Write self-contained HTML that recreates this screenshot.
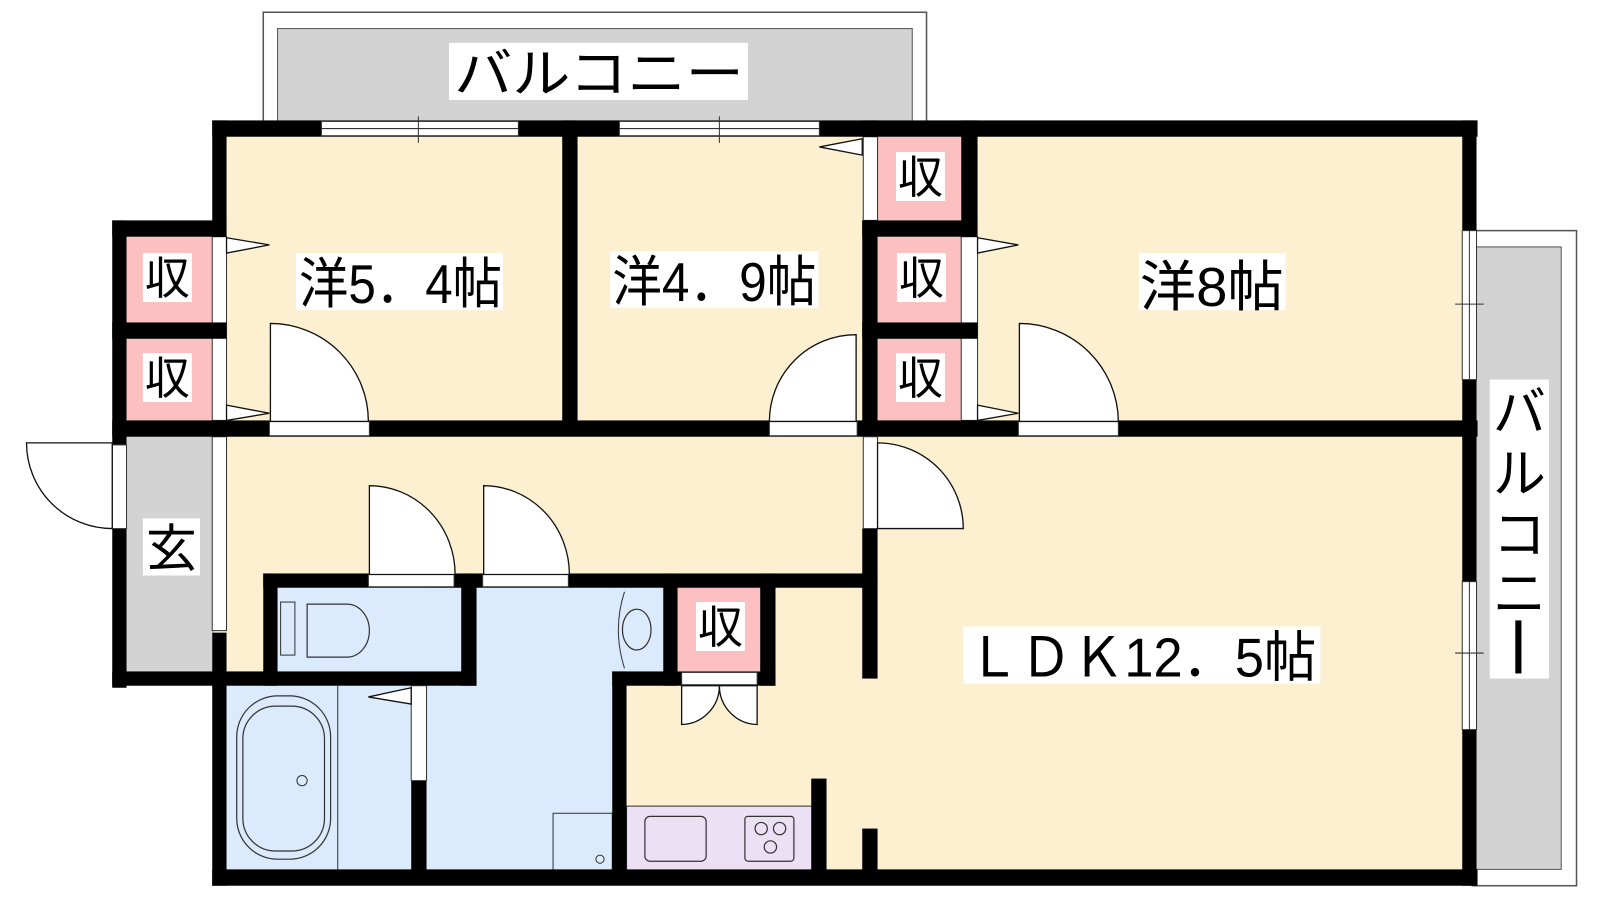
<!DOCTYPE html>
<html><head><meta charset="utf-8"><style>
html,body{margin:0;padding:0;background:#fff;width:1600px;height:900px;overflow:hidden}
svg{display:block}
text{font-family:"Liberation Sans","Noto Sans CJK JP",sans-serif;fill:#000}
</style></head><body>
<svg width="1600" height="900" viewBox="0 0 1568 882" preserveAspectRatio="none" xmlns="http://www.w3.org/2000/svg">
<!-- balconies -->
<rect x="258" y="12" width="650" height="110" fill="#fff" stroke="#555" stroke-width="1.5"/>
<rect x="272" y="28" width="622" height="94" fill="#d3d3d3" stroke="#555" stroke-width="1"/>
<rect x="440" y="42" width="293" height="56" fill="#fff"/>
<text x="445" y="90" font-size="52" textLength="284" lengthAdjust="spacingAndGlyphs">バルコニー</text>
<rect x="1443" y="226" width="102" height="642" fill="#fff" stroke="#555" stroke-width="1.5"/>
<rect x="1443" y="242" width="87" height="610" fill="#d3d3d3" stroke="#555" stroke-width="1"/>
<rect x="1460" y="372" width="58" height="293" fill="#fff"/>
<g font-size="52" text-anchor="middle">
<text x="1489" y="422">バ</text><text x="1489" y="482">ル</text><text x="1489" y="542">コ</text><text x="1489" y="600">ニ</text>
</g>
<rect x="1485" y="608" width="6" height="52" fill="#000"/>
<!-- floors -->
<rect x="222" y="134" width="330" height="280" fill="#fdf0d0"/>
<rect x="566" y="134" width="280" height="280" fill="#fdf0d0"/>
<rect x="958" y="134" width="476" height="280" fill="#fdf0d0"/>
<rect x="208" y="428" width="640" height="136" fill="#fdf0d0"/>
<rect x="208" y="560" width="52" height="100" fill="#fdf0d0"/>
<rect x="860" y="428" width="574" height="426" fill="#fdf0d0"/>
<rect x="614" y="672" width="250" height="182" fill="#fdf0d0"/>
<rect x="760" y="576" width="100" height="100" fill="#fdf0d0"/>
<rect x="124" y="428" width="86" height="232" fill="#d3d3d3"/>
<rect x="208" y="428" width="14" height="190" fill="#fff" stroke="#333" stroke-width="1"/>
<!-- blue wet areas -->
<rect x="272" y="576" width="182" height="84" fill="#dbeafd"/>
<rect x="222" y="672" width="184" height="182" fill="#dbeafd"/>
<rect x="418" y="576" width="184" height="278" fill="#dbeafd"/>
<rect x="600" y="576" width="52" height="84" fill="#dbeafd"/>
<!-- closets pink -->
<g fill="#fcc0c0">
<rect x="124" y="232" width="86" height="84"/><rect x="124" y="332" width="86" height="82"/>
<rect x="860" y="134" width="82" height="82"/><rect x="860" y="232" width="82" height="84"/><rect x="860" y="332" width="82" height="82"/>
<rect x="664" y="576" width="82" height="82"/>
</g>
<rect x="208" y="232" width="14" height="180" fill="#fff" stroke="#333" stroke-width="1"/>
<rect x="846" y="134" width="14" height="82" fill="#fff" stroke="#333" stroke-width="1"/>
<rect x="942" y="232" width="16" height="180" fill="#fff" stroke="#333" stroke-width="1"/>
<!-- kitchen -->
<rect x="614" y="790" width="182" height="64" fill="#ece0f5" stroke="#333" stroke-width="1"/>
<rect x="632" y="800" width="60" height="44" rx="5" fill="none" stroke="#333" stroke-width="1.2"/>
<rect x="730" y="800" width="48" height="44" rx="3" fill="none" stroke="#333" stroke-width="1.2"/>
<g fill="none" stroke="#333" stroke-width="1.2"><circle cx="746" cy="812" r="6"/><circle cx="764" cy="812" r="6"/><circle cx="755" cy="830" r="6"/></g>
<!-- bath -->
<rect x="232" y="682" width="92" height="160" rx="40" fill="none" stroke="#333" stroke-width="1.2"/>
<rect x="238" y="692" width="80" height="142" rx="32" fill="none" stroke="#333" stroke-width="1.2"/>
<circle cx="296" cy="765" r="5" fill="none" stroke="#333"/>
<line x1="331" y1="672" x2="331" y2="852" stroke="#333"/>
<rect x="542" y="797" width="58" height="57" fill="none" stroke="#333"/>
<circle cx="588" cy="842" r="4" fill="none" stroke="#333"/>
<!-- toilet -->
<rect x="275" y="590" width="14" height="52" fill="none" stroke="#333"/>
<path d="M301 592 H340 A22 26 0 0 1 340 644 H301 Z" fill="none" stroke="#333" stroke-width="1.2"/>
<!-- sink -->
<ellipse cx="624" cy="617" rx="14" ry="20" fill="none" stroke="#333" stroke-width="1.2"/>
<path d="M612 580 Q600 617 612 655" fill="none" stroke="#333"/>
<!-- walls -->
<g fill="#000">
<rect x="208" y="118" width="1240" height="16"/>
<rect x="208" y="118" width="14" height="114"/>
<rect x="110" y="216" width="112" height="16"/>
<rect x="110" y="316" width="112" height="16"/>
<rect x="110" y="216" width="14" height="220"/>
<rect x="110" y="518" width="14" height="156"/>
<rect x="110" y="412" width="1338" height="16"/>
<rect x="551" y="118" width="15" height="302"/>
<rect x="845" y="118" width="15" height="16"/>
<rect x="942" y="118" width="16" height="114"/>
<rect x="845" y="216" width="113" height="16"/>
<rect x="845" y="316" width="113" height="16"/>
<rect x="845" y="216" width="15" height="212"/>
<rect x="1433" y="118" width="14" height="108"/>
<rect x="1433" y="372" width="14" height="198"/>
<rect x="1433" y="715" width="14" height="153"/>
<rect x="208" y="852" width="1240" height="16"/>
<rect x="208" y="620" width="14" height="248"/>
<rect x="258" y="562" width="602" height="14"/>
<rect x="258" y="562" width="14" height="110"/>
<rect x="452" y="562" width="15" height="110"/>
<rect x="110" y="658" width="357" height="14"/>
<rect x="403" y="765" width="15" height="90"/>
<rect x="600" y="658" width="14" height="196"/>
<rect x="650" y="562" width="14" height="110"/>
<rect x="745" y="562" width="15" height="110"/>
<rect x="600" y="658" width="160" height="14"/>
<rect x="845" y="518" width="15" height="147"/>
<rect x="845" y="812" width="15" height="42"/>
<rect x="795" y="763" width="15" height="92"/>
</g>
<!-- openings (white) -->
<g fill="#fff" stroke="#333" stroke-width="1">
<rect x="315" y="119" width="193" height="14"/><rect x="607" y="119" width="196" height="14"/>
<rect x="264" y="413" width="98" height="14"/><rect x="754" y="413" width="86" height="14"/><rect x="998" y="413" width="98" height="14"/>
<rect x="361" y="563" width="84" height="12"/><rect x="473" y="563" width="84" height="12"/>
<rect x="846" y="428" width="14" height="90"/>
<rect x="110" y="436" width="14" height="82"/>
<rect x="403" y="672" width="15" height="93"/>
<rect x="668" y="659" width="74" height="12"/>
<rect x="1433" y="226" width="14" height="146"/><rect x="1433" y="570" width="14" height="145"/>
</g>
<g stroke="#333" stroke-width="1" fill="none">
<line x1="315" y1="126" x2="508" y2="126"/><line x1="410" y1="114" x2="410" y2="140"/>
<line x1="607" y1="126" x2="803" y2="126"/><line x1="705" y1="114" x2="705" y2="140"/>
<line x1="1440" y1="226" x2="1440" y2="372"/><line x1="1426" y1="298" x2="1454" y2="298"/>
<line x1="1440" y1="570" x2="1440" y2="715"/><line x1="1426" y1="640" x2="1454" y2="640"/>
</g>
<!-- doors -->
<g fill="#fff" stroke="#111" stroke-width="1.3">
<path d="M265 413 V317 A96 96 0 0 1 361 413 Z"/>
<path d="M839 413 V328 A85 85 0 0 0 754 413 Z"/>
<path d="M999 413 V317 A97 97 0 0 1 1096 413 Z"/>
<path d="M362 563 V476 A84 87 0 0 1 446 563 Z"/>
<path d="M474 563 V476 A84 87 0 0 1 558 563 Z"/>
<path d="M860 518 H944 A84 84 0 0 0 860 434 Z"/>
<path d="M110 518 A84 84 0 0 1 26 434 H110 Z"/>
<path d="M668 672 V710 A38 38 0 0 0 705 672 Z"/>
<path d="M742 672 V710 A38 38 0 0 1 705 672 Z"/>
<path d="M222 233 L264 240 L222 248 Z"/><path d="M222 397 L264 405 L222 412 Z"/>
<path d="M958 233 L998 240 L958 248 Z"/><path d="M958 397 L998 405 L958 412 Z"/>
<path d="M845 136 L803 144 L845 152 Z"/>
<path d="M403 674 L361 683 L403 690 Z"/>
</g>
<!-- labels -->
<g fill="#fff">
<rect x="290" y="248" width="203" height="56"/><rect x="598" y="246" width="204" height="56"/>
<rect x="1116" y="248" width="144" height="56"/><rect x="944" y="614" width="350" height="56"/>
<rect x="140" y="248" width="48" height="48"/><rect x="140" y="346" width="48" height="48"/>
<rect x="878" y="149" width="48" height="48"/><rect x="879" y="248" width="48" height="48"/><rect x="878" y="346" width="48" height="48"/>
<rect x="682" y="590" width="48" height="48"/><rect x="140" y="508" width="56" height="56"/>
</g>
<g font-size="54">
<text x="293" y="297" textLength="199" lengthAdjust="spacingAndGlyphs">洋5．4帖</text>
<text x="600" y="295" textLength="200" lengthAdjust="spacingAndGlyphs">洋4．9帖</text>
<text x="1117" y="300" textLength="141" lengthAdjust="spacingAndGlyphs">洋8帖</text>
<text x="948" y="663" textLength="342" lengthAdjust="spacingAndGlyphs">ＬＤＫ12．5帖</text>
</g>
<g font-size="44" text-anchor="middle">
<text x="164" y="288">収</text><text x="164" y="386">収</text>
<text x="902" y="189">収</text><text x="903" y="288">収</text><text x="902" y="386">収</text>
<text x="706" y="630">収</text>
<text x="168" y="555" font-size="50">玄</text>
</g>
</svg>
</body></html>
